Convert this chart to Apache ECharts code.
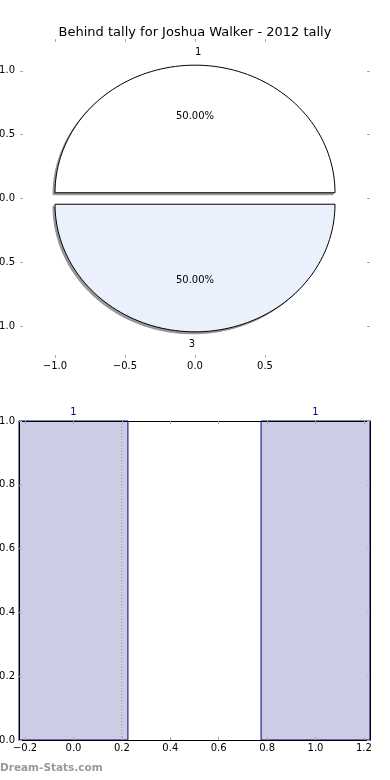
<!DOCTYPE html>
<html>
<head>
<meta charset="utf-8">
<script src="https://cdn.jsdelivr.net/npm/echarts@6/dist/echarts.min.js"></script>
<style>
  html, body { margin: 0; padding: 0; background: #fff; }
  #chart { width: 390px; height: 780px; }
</style>
</head>
<body>
<div id="chart"></div>
<script>
// pie (top)
const sliceLabels = ['1', '3'];
const sliceValues = [1, 1];
const sliceColors = ['#ffffff', '#eaf0fc'];
const pieTicksX = [-1.0, -0.5, 0.0, 0.5];
const pieTicksY = [-1.0, -0.5, 0.0, 0.5, 1.0];

// bars (bottom)
const barX = [0, 1];
const barValues = [1, 1];
const barLabels = ['1', '1'];
const barTicksX = [-0.2, 0.0, 0.2, 0.4, 0.6, 0.8, 1.0, 1.2];
const refLineX = [0.2, 0.2];
const refLineY = [0, 1];

const FONT = '"DejaVu Sans", sans-serif';
const EXPLODE = 0.045;
const BAR_W = 0.45;

const fmt = v => Number(v).toFixed(1).replace('-', '\u2212');
const total = sliceValues.reduce((a, b) => a + b, 0);

const chart = echarts.init(document.getElementById('chart'));

function renderWedge(params, api) {
  const i = params.dataIndex;
  let before = 0;
  for (let k = 0; k < i; k++) before += sliceValues[k];
  const a0 = before / total * 2 * Math.PI;
  const a1 = (before + sliceValues[i]) / total * 2 * Math.PI;
  const mid = (a0 + a1) / 2;
  const cx = EXPLODE * Math.cos(mid), cy = EXPLODE * Math.sin(mid);
  const pts = [api.coord([cx, cy])];
  const n = 90;
  for (let k = 0; k <= n; k++) {
    const a = a0 + (a1 - a0) * k / n;
    pts.push(api.coord([cx + Math.cos(a), cy + Math.sin(a)]));
  }
  // shadow is the same outline nudged down-left
  const shadowPts = pts.map(p => [p[0] - 2, p[1] + 2]);
  const lp = api.coord([cx + 1.1 * Math.cos(mid), cy + 1.1 * Math.sin(mid)]);
  const pp = api.coord([cx + 0.6 * Math.cos(mid), cy + 0.6 * Math.sin(mid)]);
  return {
    type: 'group',
    children: [
      { type: 'polygon', shape: { points: shadowPts },
        style: { fill: '#999', stroke: '#888', lineWidth: 0.8 } },
      { type: 'polygon', shape: { points: pts },
        style: { fill: sliceColors[i], stroke: '#000', lineWidth: 1 } },
      { type: 'text', x: lp[0], y: lp[1],
        style: {
          text: sliceLabels[i], fill: '#000', font: '10px ' + FONT,
          align: Math.cos(mid) > 0 ? 'left' : 'right', verticalAlign: 'middle'
        } },
      { type: 'text', x: pp[0], y: pp[1],
        style: {
          text: (sliceValues[i] / total * 100).toFixed(2) + '%', fill: '#000',
          font: '10px ' + FONT, align: 'center', verticalAlign: 'middle'
        } }
    ]
  };
}

function renderBar(params, api) {
  const i = params.dataIndex;
  const p0 = api.coord([barX[i] - BAR_W / 2, barValues[i]]);
  const p1 = api.coord([barX[i] + BAR_W / 2, 0]);
  const top = api.coord([barX[i], barValues[i]]);
  return {
    type: 'group',
    children: [
      { type: 'rect',
        shape: { x: p0[0], y: p0[1], width: p1[0] - p0[0], height: p1[1] - p0[1] },
        style: { fill: '#ccccе4'.replace('е', 'e'), stroke: '#000080', lineWidth: 1 } },
      { type: 'text', x: top[0], y: top[1] - 9,
        style: { text: barLabels[i], fill: '#000080', font: '10px ' + FONT, align: 'center', verticalAlign: 'middle' } }
    ]
  };
}

const tickStyle = { show: true, inside: true, length: 3, lineStyle: { color: '#aaa', width: 1 } };
const lbl = { color: '#000', fontSize: 10, fontFamily: FONT };
const noLine = { show: false, onZero: false };
const frameLine = { show: true, onZero: false, lineStyle: { color: '#000', width: 1 } };

const option = {
  animation: false,
  title: {
    text: 'Behind tally for Joshua Walker - 2012 tally',
    left: 'center', top: 21,
    textStyle: { fontSize: 13, fontWeight: 'normal', color: '#000', fontFamily: FONT }
  },
  grid: [
    { left: 20, top: 39, width: 350, height: 319, outerBoundsMode: 'none', containLabel: false },
    { left: 19, top: 421, width: 351, height: 319, outerBoundsMode: 'none', containLabel: false }
  ],
  xAxis: [
    { gridIndex: 0, type: 'value', position: 'bottom', min: -1.25, max: 1.25,
      axisLine: noLine, splitLine: { show: false },
      axisTick: Object.assign({ customValues: pieTicksX }, tickStyle),
      axisLabel: Object.assign({ customValues: pieTicksX, formatter: fmt, margin: 3 }, lbl) },
    { gridIndex: 0, type: 'value', position: 'top', min: -1.25, max: 1.25,
      axisLine: noLine, splitLine: { show: false },
      axisTick: Object.assign({ customValues: pieTicksX }, tickStyle),
      axisLabel: { show: false } },
    { gridIndex: 1, type: 'value', position: 'bottom', min: -0.225, max: 1.225, z: 5,
      axisLine: frameLine, splitLine: { show: false },
      axisTick: Object.assign({ customValues: barTicksX }, tickStyle),
      axisLabel: Object.assign({ customValues: barTicksX, formatter: fmt, margin: 3 }, lbl) },
    { gridIndex: 1, type: 'value', position: 'top', min: -0.225, max: 1.225, z: 5,
      axisLine: frameLine, splitLine: { show: false },
      axisTick: Object.assign({ customValues: barTicksX }, tickStyle),
      axisLabel: { show: false } }
  ],
  yAxis: [
    { gridIndex: 0, type: 'value', position: 'left', min: -1.25, max: 1.25,
      axisLine: noLine, splitLine: { show: false },
      axisTick: Object.assign({ customValues: pieTicksY }, tickStyle),
      axisLabel: Object.assign({ customValues: pieTicksY, formatter: fmt, margin: 5 }, lbl) },
    { gridIndex: 0, type: 'value', position: 'right', min: -1.25, max: 1.25,
      axisLine: noLine, splitLine: { show: false },
      axisTick: Object.assign({ customValues: pieTicksY }, tickStyle),
      axisLabel: { show: false } },
    { gridIndex: 1, type: 'value', position: 'left', min: 0, max: 1, interval: 0.2, z: 5,
      axisLine: frameLine, splitLine: { show: false },
      axisTick: tickStyle,
      axisLabel: Object.assign({ formatter: fmt, margin: 4 }, lbl) },
    { gridIndex: 1, type: 'value', position: 'right', min: 0, max: 1, interval: 0.2, z: 5,
      axisLine: frameLine, splitLine: { show: false },
      axisTick: tickStyle,
      axisLabel: { show: false } }
  ],
  series: [
    { type: 'custom', xAxisIndex: 0, yAxisIndex: 0, renderItem: renderWedge,
      data: sliceValues.map((v, i) => [i, v]) },
    { type: 'custom', xAxisIndex: 2, yAxisIndex: 2, renderItem: renderBar,
      data: barValues.map((v, i) => [barX[i], v]) },
    { type: 'line', xAxisIndex: 2, yAxisIndex: 2, symbol: 'none', silent: true,
      lineStyle: { color: '#999', width: 1, type: [1, 2] },
      data: refLineX.map((x, i) => [x, refLineY[i]]) }
  ],
  graphic: [
    { type: 'text', left: 0, top: 763,
      style: { text: 'Dream-Stats.com', fill: '#999', font: 'bold 10.5px ' + FONT } }
  ]
};

chart.setOption(option);
</script>
</body>
</html>
